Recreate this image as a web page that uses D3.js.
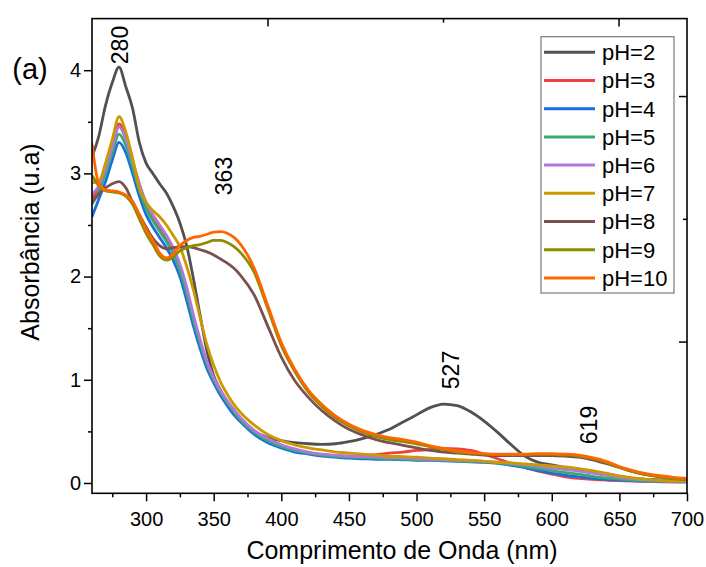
<!DOCTYPE html>
<html>
<head>
<meta charset="utf-8">
<script src="https://cdn.jsdelivr.net/npm/d3@7/dist/d3.min.js"></script>
<style>
  html, body { margin: 0; padding: 0; background: #fff; }
  svg { display: block; }
  text { font-family: "Liberation Sans", Arial, sans-serif; fill: #000; }
</style>
</head>
<body>
<svg id="chart" width="706" height="567"></svg>
<script>
// Wavelength grid (nm)
const wavelengths = [260,265,270,275,280,285,290,295,300,305,310,315,320,325,330,335,340,345,350,355,360,365,370,380,390,400,410,420,430,440,450,460,470,480,490,500,510,520,530,540,550,560,570,580,590,600,610,620,630,640,650,660,670,680,690,700];

// Absorbance spectra, one array per pH
const absPH2  = [3.16,3.36,3.66,3.88,4.03,3.84,3.63,3.30,3.10,3.00,2.90,2.81,2.68,2.52,2.30,1.98,1.62,1.28,1.04,0.90,0.78,0.68,0.60,0.50,0.44,0.41,0.39,0.38,0.375,0.38,0.40,0.43,0.47,0.52,0.59,0.66,0.73,0.765,0.75,0.69,0.60,0.49,0.37,0.26,0.20,0.175,0.15,0.125,0.10,0.08,0.06,0.045,0.035,0.03,0.025,0.02];
const absPH3  = [2.76,2.86,3.04,3.26,3.48,3.35,3.12,2.89,2.70,2.58,2.47,2.37,2.25,2.09,1.87,1.60,1.37,1.16,1.01,0.89,0.79,0.70,0.62,0.50,0.42,0.36,0.32,0.295,0.275,0.265,0.26,0.265,0.275,0.29,0.30,0.315,0.325,0.335,0.33,0.315,0.28,0.235,0.19,0.15,0.115,0.085,0.06,0.045,0.035,0.028,0.022,0.018,0.015,0.012,0.01,0.01];
const absPH4  = [2.58,2.75,2.92,3.13,3.30,3.20,3.00,2.78,2.60,2.48,2.38,2.28,2.16,2.00,1.77,1.52,1.30,1.11,0.97,0.85,0.75,0.66,0.59,0.47,0.39,0.34,0.30,0.28,0.26,0.25,0.24,0.235,0.23,0.23,0.225,0.22,0.22,0.215,0.21,0.205,0.20,0.19,0.17,0.15,0.12,0.095,0.075,0.06,0.045,0.035,0.028,0.022,0.018,0.015,0.012,0.01];
const absPH5  = [2.70,2.82,3.00,3.20,3.38,3.27,3.06,2.84,2.66,2.54,2.44,2.34,2.22,2.06,1.84,1.58,1.35,1.15,1.00,0.88,0.78,0.69,0.61,0.49,0.41,0.355,0.315,0.29,0.27,0.26,0.25,0.245,0.24,0.235,0.23,0.225,0.225,0.22,0.215,0.21,0.205,0.195,0.18,0.16,0.14,0.12,0.10,0.085,0.065,0.05,0.038,0.028,0.02,0.016,0.013,0.01];
const absPH6  = [2.80,2.88,3.05,3.25,3.45,3.33,3.12,2.90,2.72,2.60,2.50,2.40,2.28,2.12,1.90,1.63,1.39,1.18,1.02,0.90,0.80,0.71,0.63,0.51,0.43,0.37,0.33,0.30,0.28,0.27,0.26,0.255,0.25,0.245,0.24,0.235,0.23,0.225,0.22,0.215,0.21,0.20,0.19,0.175,0.16,0.145,0.13,0.115,0.095,0.075,0.055,0.04,0.03,0.022,0.017,0.013];
const absPH7  = [2.91,2.92,3.10,3.33,3.55,3.40,3.15,2.86,2.72,2.64,2.58,2.50,2.40,2.29,2.10,1.87,1.60,1.34,1.14,0.98,0.86,0.76,0.68,0.56,0.47,0.41,0.37,0.34,0.32,0.30,0.29,0.28,0.27,0.26,0.255,0.25,0.24,0.235,0.225,0.22,0.21,0.20,0.195,0.185,0.175,0.165,0.155,0.14,0.12,0.095,0.07,0.05,0.035,0.025,0.02,0.015];
const absPH8  = [2.72,2.80,2.86,2.90,2.92,2.86,2.72,2.60,2.48,2.37,2.30,2.27,2.28,2.29,2.29,2.28,2.26,2.24,2.21,2.17,2.13,2.08,2.01,1.82,1.52,1.22,0.99,0.83,0.70,0.60,0.52,0.465,0.42,0.39,0.365,0.34,0.315,0.30,0.29,0.28,0.27,0.265,0.265,0.265,0.265,0.265,0.26,0.25,0.225,0.19,0.15,0.11,0.08,0.06,0.045,0.035];
const absPH9  = [2.98,2.88,2.83,2.82,2.81,2.78,2.70,2.56,2.42,2.31,2.20,2.16,2.19,2.25,2.28,2.30,2.31,2.33,2.35,2.35,2.33,2.29,2.23,2.04,1.69,1.33,1.08,0.88,0.74,0.63,0.555,0.495,0.45,0.42,0.40,0.38,0.35,0.325,0.30,0.29,0.28,0.275,0.275,0.275,0.278,0.278,0.272,0.26,0.235,0.20,0.15,0.11,0.08,0.06,0.045,0.035];
const absPH10 = [3.29,2.90,2.84,2.83,2.82,2.79,2.73,2.60,2.46,2.35,2.23,2.18,2.22,2.30,2.35,2.38,2.39,2.41,2.43,2.435,2.42,2.38,2.31,2.08,1.72,1.36,1.10,0.90,0.76,0.65,0.57,0.51,0.47,0.44,0.42,0.395,0.36,0.335,0.31,0.295,0.285,0.28,0.28,0.28,0.285,0.285,0.28,0.27,0.245,0.21,0.16,0.12,0.09,0.07,0.055,0.045];

const seriesNames  = ["pH=2","pH=3","pH=4","pH=5","pH=6","pH=7","pH=8","pH=9","pH=10"];
const seriesValues = [absPH2, absPH3, absPH4, absPH5, absPH6, absPH7, absPH8, absPH9, absPH10];
const seriesColors = ["#515151","#F14040","#1A6FDF","#37AD6B","#B177DE","#CC9900","#7B5050","#8C8C00","#FF6600"];

// Band maxima annotated above the curves
const peakLabels = ["280","363","527","619"];

// Axis ticks
const xMajorTicks = [300,350,400,450,500,550,600,650,700];
const xMinorTicks = [275,325,375,425,475,525,575,625,675];
const yMajorTicks = [0,1,2,3,4];
const yMinorTicks = [0.5,1.5,2.5,3.5];

const svg = d3.select("#chart");
const plotL = 92, plotR = 687, plotT = 18.6, plotB = 493.3;

const x = d3.scaleLinear().domain([260, 700]).range([plotL, plotR]);
const y = d3.scaleLinear().domain([-0.1, 4.5]).range([plotB, plotT]);

// Secondary (unlabelled) frame scales for the top and right edges
const xTop = d3.scaleLinear().domain([0, 3.39]).range([plotL, plotR]);
const yRight = d3.scaleLinear().domain([-0.236, 3.631]).range([plotB, plotT]);

svg.append("defs").append("clipPath").attr("id", "plotClip")
  .append("rect").attr("x", plotL).attr("y", plotT)
  .attr("width", plotR - plotL).attr("height", plotB - plotT);

// Spectra
const line = d3.line()
  .x(d => x(d[0])).y(d => y(d[1]))
  .curve(d3.curveMonotoneX);

const plot = svg.append("g").attr("clip-path", "url(#plotClip)");
seriesValues.forEach((vals, i) => {
  plot.append("path")
    .datum(wavelengths.map((w, k) => [w, vals[k]]))
    .attr("fill", "none")
    .attr("stroke", seriesColors[i])
    .attr("stroke-width", 2.8)
    .attr("stroke-linejoin", "round")
    .attr("d", line);
});

// Axes
const styleAxis = g => {
  g.selectAll(".domain").remove();
  g.selectAll(".tick line").attr("stroke", "#000").attr("stroke-width", 1.5);
  g.selectAll("text").style("font-family", "'Liberation Sans', Arial, sans-serif").attr("fill", "#000");
};

svg.append("g").attr("transform", `translate(0,${plotB})`)
  .call(d3.axisBottom(x).tickValues(xMajorTicks).tickSize(8).tickPadding(11).tickFormat(d3.format("d")))
  .call(styleAxis)
  .selectAll("text").style("font-size", "20px");
svg.append("g").attr("transform", `translate(0,${plotB})`)
  .call(d3.axisBottom(x).tickValues(xMinorTicks).tickSize(4).tickFormat(""))
  .call(styleAxis);

svg.append("g").attr("transform", `translate(${plotL},0)`)
  .call(d3.axisLeft(y).tickValues(yMajorTicks).tickSize(8).tickPadding(3).tickFormat(d3.format("d")))
  .call(styleAxis)
  .selectAll("text").style("font-size", "20px");
svg.append("g").attr("transform", `translate(${plotL},0)`)
  .call(d3.axisLeft(y).tickValues(yMinorTicks).tickSize(4).tickFormat(""))
  .call(styleAxis);

svg.append("g").attr("transform", `translate(0,${plotT})`)
  .call(d3.axisTop(xTop).tickValues([1, 3]).tickSize(-8).tickFormat(""))
  .call(styleAxis);
svg.append("g").attr("transform", `translate(0,${plotT})`)
  .call(d3.axisTop(xTop).tickValues([2]).tickSize(-4).tickFormat(""))
  .call(styleAxis);

svg.append("g").attr("transform", `translate(${plotR},0)`)
  .call(d3.axisRight(yRight).tickValues([1, 3]).tickSize(-8).tickFormat(""))
  .call(styleAxis);
svg.append("g").attr("transform", `translate(${plotR},0)`)
  .call(d3.axisRight(yRight).tickValues([2]).tickSize(-4).tickFormat(""))
  .call(styleAxis);

// Frame
svg.append("rect")
  .attr("x", plotL).attr("y", plotT)
  .attr("width", plotR - plotL).attr("height", plotB - plotT)
  .attr("fill", "none").attr("stroke", "#000").attr("stroke-width", 1.6);

// Axis titles
svg.append("text")
  .attr("x", 402).attr("y", 559)
  .attr("text-anchor", "middle")
  .style("font-size", "25px")
  .text("Comprimento de Onda (nm)");

svg.append("text")
  .attr("transform", "translate(39,242) rotate(-90)")
  .attr("text-anchor", "middle")
  .style("font-size", "25px")
  .text("Absorbância (u.a)");

// Panel tag
svg.append("text")
  .attr("x", 30).attr("y", 79)
  .attr("text-anchor", "middle")
  .style("font-size", "29px")
  .text("(a)");

// Peak annotations, placed above their bands
const peakAnchors = [[120, 45], [224, 176], [451, 370], [589, 425]];
peakLabels.forEach((t, i) => {
  svg.append("text")
    .attr("transform", `translate(${peakAnchors[i][0]},${peakAnchors[i][1]}) rotate(-90)`)
    .attr("text-anchor", "middle")
    .attr("dy", "0.36em")
    .style("font-size", "23px")
    .text(t);
});

// Legend
const legend = svg.append("g");
legend.append("rect")
  .attr("x", 541).attr("y", 36.7).attr("width", 133).attr("height", 256.3)
  .attr("fill", "#fff").attr("stroke", "#7a7a7a").attr("stroke-width", 1.2);
seriesNames.forEach((name, i) => {
  const ry = 52.3 + i * 28.2;
  legend.append("line")
    .attr("x1", 544).attr("x2", 595).attr("y1", ry).attr("y2", ry)
    .attr("stroke", seriesColors[i]).attr("stroke-width", 3);
  legend.append("text")
    .attr("x", 602).attr("y", ry).attr("dy", "0.36em")
    .style("font-size", "22px")
    .text(name);
});
</script>
</body>
</html>
